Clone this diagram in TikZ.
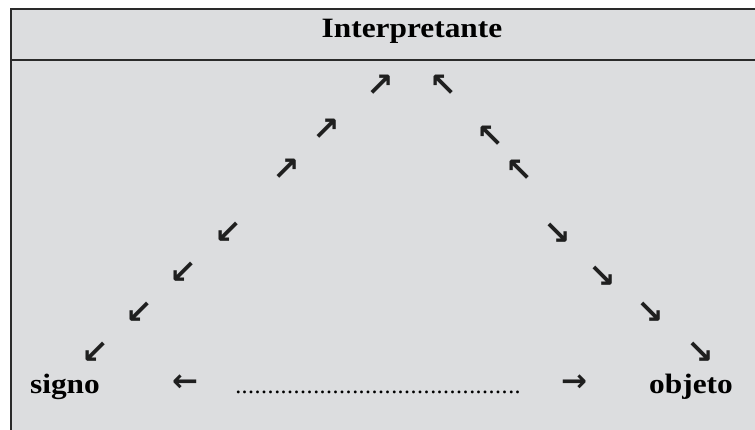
\documentclass[tikz,border=0pt]{standalone}
\usepackage{fontspec}
\setmainfont{Liberation Serif}
\newfontfamily\arrowfont{DejaVu Sans}
\definecolor{panel}{HTML}{DCDDDF}
\definecolor{rule}{HTML}{2A2A2A}
\begin{document}
\begin{tikzpicture}[x=1pt,y=-1pt,
  lbl/.style={font=\fontsize{28}{30}\selectfont\bfseries, text=black, inner sep=0pt, anchor=base, xscale=1.12, transform shape},
  arr/.style={font=\arrowfont\bfseries\fontsize{33}{35}\selectfont, text=black!88, inner sep=0pt},
  harr/.style={font=\arrowfont\bfseries\fontsize{31}{33}\selectfont, text=black!88, inner sep=0pt},
  dots/.style={font=\fontsize{24}{26}\selectfont, text=black, inner sep=0pt, anchor=base}]
\useasboundingbox (0,0) rectangle (755,430);
\fill[panel] (11,9) rectangle (755,430);
\draw[rule, line width=1.4pt] (755,9) -- (11,9) -- (11,430);
\draw[rule, line width=1.4pt] (11,60) -- (755,60);
\node[lbl] (interp) at (412,38) {Interpretante};
\node[lbl] (signo) at (65,393) {signo};
\node[lbl] (objeto) at (691,393) {objeto};
\node[harr] (la) at (185,383) {←};
\node[harr] (ra) at (574,383) {→};
\node[dots] (dl) at (380,393) {\hbox to 290pt{\leaders\hbox to 6.5pt{\hss.\hss}\hfill}};
% left ascending
\node[arr] (u1) at (380,86) {↗};
\node[arr] (u2) at (326,130) {↗};
\node[arr] (u3) at (286,170) {↗};
% right ascending
\node[arr] (v1) at (443,86) {↖};
\node[arr] (v2) at (490,137) {↖};
\node[arr] (v3) at (519,171) {↖};
% left descending
\node[arr] (d1) at (228,233) {↙};
\node[arr] (d2) at (183,273) {↙};
\node[arr] (d3) at (139,313) {↙};
\node[arr] (d4) at (95,353) {↙};
% right descending
\node[arr] (e1) at (557,234) {↘};
\node[arr] (e2) at (602,277) {↘};
\node[arr] (e3) at (650,313) {↘};
\node[arr] (e4) at (700,353) {↘};
\end{tikzpicture}
\end{document}
